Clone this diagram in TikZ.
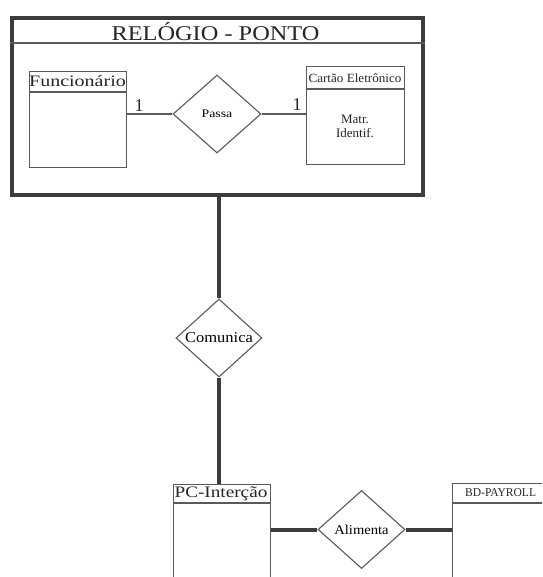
\documentclass[tikz,border=0pt]{standalone}
\usepackage{fontspec}
\usepackage{graphicx}
\setmainfont{Liberation Serif}
\usetikzlibrary{shapes.geometric}
\definecolor{ink}{HTML}{3C3C3C}
\definecolor{thin}{HTML}{5A5A5A}
\newcommand{\fs}[1]{\fontsize{#1}{#1}\selectfont}
\tikzset{
  thickline/.style={draw=ink, line width=4pt},
  thinline/.style={draw=thin, line width=1.1pt},
  entity/.style={thinline, rectangle, inner sep=0pt, anchor=north west},
  relation/.style={thinline, diamond, inner sep=0pt, minimum width=87pt, minimum height=78pt},
  label/.style={inner sep=0pt, text=black!85},
}
\begin{document}
\begin{tikzpicture}[x=1pt, y=-1pt]
\clip (0,0) rectangle (542,577);
\fill[white] (0,0) rectangle (542,577);

% outer frame with title bar
\node[draw=ink, line width=4pt, rectangle, inner sep=0pt, anchor=north west,
      minimum width=411pt, minimum height=177pt] (relogio) at (10,16) {};
\draw[thinline] (relogio.west |- 0,43) -- (relogio.east |- 0,43);
\node[label, font=\fs{21}] (titulo) at (215.5,32) {\scalebox{1.16}[1]{RELÓGIO - PONTO}};

% Funcionário entity
\node[entity, minimum width=97pt, minimum height=96pt] (func) at (29,71) {};
\draw[thinline] (func.west |- 0,92) -- (func.east |- 0,92);
\node[label, font=\fs{16}] (funct) at (77.5,81) {\scalebox{1.25}[1]{Funcionário}};

% Passa relationship
\node[relation, minimum width=88pt] (passa) at (217,114) {\fs{11.5}\scalebox{1.2}[1]{Passa}};
\draw[thinline] (passa.west) -- (passa.west -| func.east);
\node[label, font=\fs{18}] (c1) at (139,106) {1};

% Cartão Eletrônico entity
\node[entity, minimum width=98pt, minimum height=98pt] (cartao) at (306,66) {};
\draw[thinline] (cartao.west |- 0,89) -- (cartao.east |- 0,89);
\node[label, font=\fs{12.5}] (cartaot) at (355,78) {\scalebox{1.05}[1]{Cartão Eletrônico}};
\node[label, font=\fs{13}, align=center] (attr) at (355,126.5) {Matr.\\[1pt]Identif.};
\draw[thinline] (passa.east) -- (passa.east -| cartao.west);
\node[label, font=\fs{18}] (c2) at (297,105) {1};

% Comunica relationship
\node[relation, minimum width=86pt] (comunica) at (219,338) {\fs{15}\scalebox{1.1}[1]{Comunica}};
\draw[thickline] (comunica.north) -- (comunica.north |- relogio.south);

% PC-Interção entity
\node[entity, minimum width=97.5pt, minimum height=120pt] (pc) at (172.5,484) {};
\draw[thinline] (pc.west |- 0,503) -- (pc.east |- 0,503);
\node[label, font=\fs{16}] (pct) at (221,494) {\scalebox{1.2}[1]{PC-Interção}};
\draw[thickline] (comunica.south) -- (comunica.south |- pc.north);

% Alimenta relationship
\node[relation] (alimenta) at (361.5,529.5) {\fs{13.5}\scalebox{1.08}[1]{Alimenta}};
\draw[thickline] (alimenta.west) -- (alimenta.west -| pc.east);

% BD-PAYROLL entity
\node[entity, minimum width=150pt, minimum height=120pt] (bd) at (452,483) {};
\draw[thinline] (bd.west |- 0,503) -- (bd.east |- 0,503);
\node[label, font=\fs{12}, anchor=west] (bdt) at (465,493) {\scalebox{0.96}[1]{BD-PAYROLL}};
\draw[thickline] (alimenta.east) -- (alimenta.east -| bd.west);
\end{tikzpicture}
\end{document}
